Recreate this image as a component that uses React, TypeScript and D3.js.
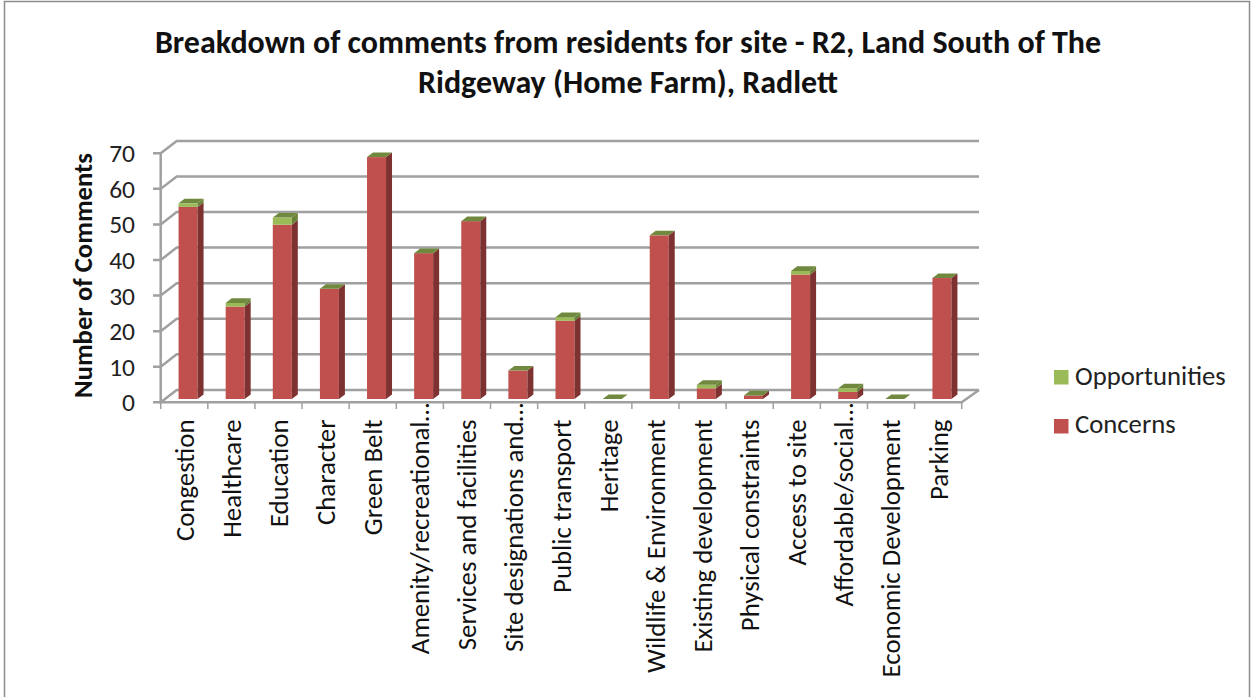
import React from "react";
import * as d3 from "d3";

const categories = ["Congestion","Healthcare","Education","Character","Green Belt","Amenity/recreational…","Services and facilities","Site designations and…","Public transport","Heritage","Wildlife & Environment","Existing development","Physical constraints","Access to site","Affordable/social…","Economic Development","Parking"];
const concerns = [54,26,49,31,68,41,50,8,22,0,46,3,1,35,2,0,34];
const opportunities = [1,1,2,0,0,0,0,0,1,0,0,1,0,1,1,0,0];
const yTicks = [0,10,20,30,40,50,60,70];
const titleLines = ["Breakdown of comments from residents for site - R2, Land South of The","Ridgeway (Home Farm), Radlett"];
const yAxisTitle = "Number of Comments";
const legendItems = [{ name: "Opportunities", color: "#9BBB59" }, { name: "Concerns", color: "#C0504D" }];

const FONT = "Carlito, Lato, 'Open Sans', sans-serif";
const GRID = "#a0a0a0";
const wallDx = 16, wallDy = -12.4;
const barDx = 6, barDy = -4.6;
const barW = 19;

const x = d3.scaleBand<string>().domain(categories).range([160.7, 961.7]);
const y = d3.scaleLinear().domain([0, 70]).range([402.3, 153.3]);
const barBase = 399;
const h = (v: number) => y(0) - y(v);

function Box({ cx, from, to, front, side, top }: any) {
  const l = cx - barW / 2, r = cx + barW / 2;
  const yb = barBase - h(from), yt = barBase - h(to);
  return (
    <g>
      {to > from && <rect x={l} y={yt} width={barW} height={yb - yt} fill={front} />}
      {to > from && <path d={`M${r},${yb}L${r + barDx},${yb + barDy}L${r + barDx},${yt + barDy}L${r},${yt}Z`} fill={side} />}
      {top && <path d={`M${l},${yt}L${l + barDx},${yt + barDy}L${r + barDx},${yt + barDy}L${r},${yt}Z`} fill={top} />}
    </g>
  );
}

export default function App() {
  return (
    <svg width={1253} height={697} style={{ position: "absolute", left: 0, top: 0, background: "#fff" }} fontFamily={FONT}>
      <path d="M4.5,697V1.5H1249.5V697" fill="none" stroke="#8c8c8c" strokeWidth={1.5} />
      {titleLines.map((t, i) => (
        <text key={t} x={628} y={52.5 + i * 40} textAnchor="middle" fontSize={32} fontWeight={700} fill="#111">{t}</text>
      ))}
      {/* walls and floor */}
      {yTicks.map((t) => (
        <path key={t} d={`M153,${y(t)}H160.7L${160.7 + wallDx},${y(t) + wallDy}H979`} stroke={GRID} strokeWidth={2.5} fill="none" />
      ))}
      <path d={`M160.7,${y(70)}V${y(0)}H961.7L979,${y(0) + wallDy}`} stroke={GRID} strokeWidth={2.5} fill="none" />
      {categories.map((c, i) => (
        <line key={c} x1={160.7 + i * x.bandwidth()} x2={160.7 + i * x.bandwidth()} y1={y(0)} y2={409} stroke={GRID} strokeWidth={1.5} />
      ))}
      <line x1={961.7} x2={961.7} y1={y(0)} y2={409} stroke={GRID} strokeWidth={1.5} />
      {/* bars */}
      {categories.map((c, i) => {
        const cx = x(c)! + x.bandwidth() / 2 + 3.8;
        const total = concerns[i] + opportunities[i];
        return (
          <g key={c}>
            <Box cx={cx} from={0} to={concerns[i]} front="#C0504D" side="#7D3231" />
            <Box cx={cx} from={concerns[i]} to={total} front="#9BBB59" side="#6A8339" top="#71893F" />
          </g>
        );
      })}
      {/* labels */}
      {yTicks.map((t) => (
        <text key={t} x={135} y={y(t)} dy="0.35em" textAnchor="end" fontSize={25.5} fill="#222">{t}</text>
      ))}
      <text transform="translate(83,275.5) rotate(-90)" textAnchor="middle" dy="0.35em" fontSize={26.7} fontWeight={700} fill="#111">{yAxisTitle}</text>
      {categories.map((c) => (
        <text key={c} transform={`translate(${x(c)! + x.bandwidth() / 2},${c.endsWith("…") ? 403 : 419.5}) rotate(-90)`} dy="0.35em" textAnchor="end" fontSize={26.8} fill="#111">{c}</text>
      ))}
      {legendItems.map((l, i) => (
        <g key={l.name}>
          <rect x={1054} y={370 + i * 49} width={14.5} height={14.5} fill={l.color} />
          <text x={1075} y={385 + i * 48} fontSize={26.7} fill="#222">{l.name}</text>
        </g>
      ))}
    </svg>
  );
}
